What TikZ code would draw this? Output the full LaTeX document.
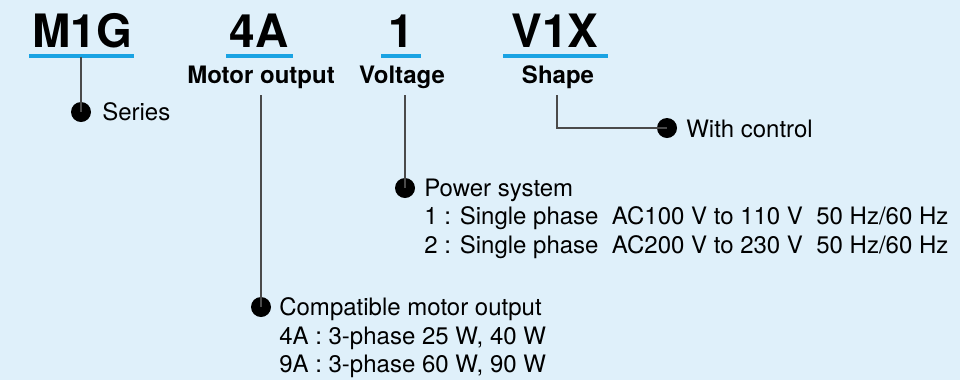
\documentclass[tikz,border=0pt]{standalone}
\usepackage{fontspec}
\setmainfont{TeX Gyre Heros}
\definecolor{bgblue}{HTML}{DFF0FA}
\definecolor{ulblue}{HTML}{1AA3E3}
\definecolor{lngray}{HTML}{4A4A4A}
\begin{document}
\begin{tikzpicture}[x=0.75pt,y=-0.75pt,
  code/.style={anchor=base,inner sep=0pt,font=\fontsize{34.5pt}{40pt}\selectfont\bfseries},
  head/.style={anchor=base,inner sep=0pt,font=\fontsize{18pt}{21pt}\selectfont\bfseries},
  txt/.style={anchor=base west,inner sep=0pt,font=\fontsize{18pt}{21pt}\selectfont},
  uline/.style={draw=ulblue,line width=2.3pt},
  conn/.style={draw=lngray,line width=1.1pt},
  bullet/.style={circle,fill=black,inner sep=0pt,minimum size=15pt}]
\fill[bgblue] (0,0) rectangle (960,380);
\useasboundingbox (0,0) rectangle (960,380);
% codes
\node[code] (m1g) at (82,47) {M1G};
\node[code] (c4a) at (259,47) {4A};
\node[code] (c1) at (401,47) {1};
\node[code] (v1x) at (555,47) {V1X};
% underlines
\draw[uline] (29,56) -- (134,56);
\draw[uline] (226,56) -- (293,56);
\draw[uline] (381,56) -- (421,56);
\draw[uline] (503,56) -- (608,56);
% headings
\node[head] (hmo) at (261,83) {Motor output};
\node[head] (hvo) at (402,83) {Voltage};
\node[head] (hsh) at (558,83) {Shape};
% anchor coordinates
\coordinate (u1) at (81,57);
\coordinate (t2) at (261,95);
\coordinate (t3) at (405,95);
\coordinate (t4) at (557,95);
\coordinate (k4) at (557,128);
% bullets
\node[bullet] (d1) at (81,112) {};
\node[bullet] (d2) at (261,307) {};
\node[bullet] (d3) at (405,188) {};
\node[bullet] (d4) at (667,128) {};
% connectors
\draw[conn] (u1) -- (d1.center);
\draw[conn] (t2) -- (d2.center);
\draw[conn] (t3) -- (d3.center);
\draw[conn] (t4) -- (k4) -- (d4.center);
% texts
\node[txt] (ser) at (102,120) {Series};
\node[txt] (wc) at (686,137) {With control};
\node[txt] (ps) at (424,196) {Power system};
\node[txt] (ps1) at (424,224.5) {1 : Single phase\ \ AC100 V to 110 V\ \ 50 Hz/60 Hz};
\node[txt] (ps2) at (424,253) {2 : Single phase\ \ AC200 V to 230 V\ \ 50 Hz/60 Hz};
\node[txt] (cm) at (279,315) {Compatible motor output};
\node[txt] (cm1) at (279,344) {4A : 3-phase 25 W, 40 W};
\node[txt] (cm2) at (279,372) {9A : 3-phase 60 W, 90 W};
\end{tikzpicture}
\end{document}
